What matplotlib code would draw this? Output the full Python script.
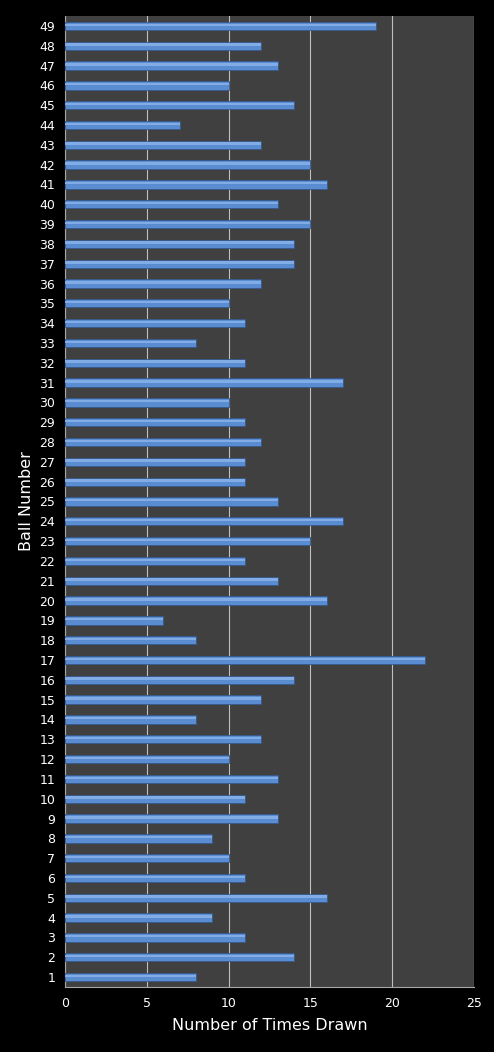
import matplotlib
matplotlib.use("Agg")
import matplotlib.pyplot as plt

balls = list(range(1, 50))
times_drawn = [8, 14, 11, 9, 16, 11, 10, 9, 13, 11,
               13, 10, 12, 8, 12, 14, 22, 8, 6, 16,
               13, 11, 15, 17, 13, 11, 11, 12, 11, 10,
               17, 11, 8, 11, 10, 12, 14, 14, 15, 13,
               16, 15, 12, 7, 14, 10, 13, 12, 19]
x_ticks = [0, 5, 10, 15, 20, 25]

fig = plt.figure(figsize=(4.94, 10.52), dpi=100, facecolor='black')
ax = fig.add_axes([0.1316, 0.0618, 0.828, 0.923])
ax.set_facecolor('#404040')

# main bar and a lighter strip on top to fake the bevel look
ax.barh(balls, times_drawn, height=0.42, color='#5A8CD2', edgecolor='#36598C',
        linewidth=0.6, zorder=3)
ax.barh([b + 0.06 for b in balls], times_drawn, height=0.12, color='#82ACE6',
        linewidth=0, zorder=4)

ax.set_xlim(0, 25)
ax.set_ylim(0.5, 49.5)
ax.set_xticks(x_ticks)
ax.set_yticks(balls)
ax.grid(axis='x', color='#BFBFBF', linewidth=0.8, zorder=1)
ax.tick_params(colors='white', labelsize=9, length=0, pad=7)
for s in ax.spines.values():
    s.set_color('#A6A6A6')
    s.set_linewidth(0.8)
ax.spines['top'].set_visible(False)
ax.spines['right'].set_visible(False)

ax.set_xlabel('Number of Times Drawn', color='white', fontsize=11.5, labelpad=6)
ax.set_ylabel('Ball Number', color='white', fontsize=11.5, labelpad=4)

fig.savefig('out.png', dpi=100, facecolor='black')
